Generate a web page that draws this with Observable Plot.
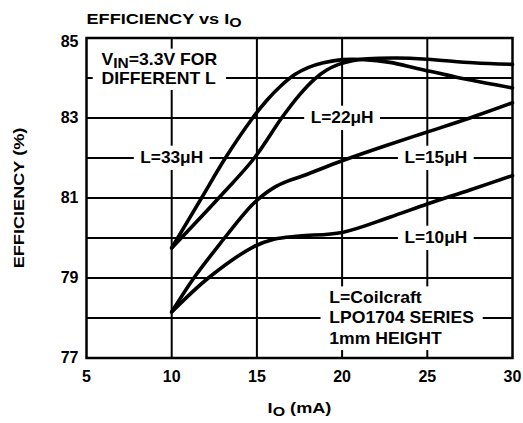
<!DOCTYPE html>
<html>
<head>
<meta charset="utf-8">
<script src="https://cdn.jsdelivr.net/npm/d3@7"></script>
<script src="https://cdn.jsdelivr.net/npm/@observablehq/plot@0.6"></script>
<style>
  html, body { margin: 0; padding: 0; background: #fff; }
</style>
</head>
<body>
<div id="chart"></div>
<script>
// ---- data ----
const L33_x = [10, 11.75, 13.15, 14.75, 15.6, 16.4, 17.2, 18.0, 18.9, 20.0, 21.3, 22.8, 24.4, 26.7, 28.5, 30];
const L33_y = [79.75, 81, 82, 83, 83.45, 83.8, 84.08, 84.26, 84.38, 84.46, 84.46, 84.39, 84.24, 84.02, 83.87, 83.75];

const L22_x = [10, 12.76, 14.85, 16.45, 17.5, 18.4, 19.1, 19.8, 20.6, 21.5, 23.2, 25, 27.7, 30];
const L22_y = [79.75, 81, 82, 83, 83.58, 83.98, 84.2, 84.34, 84.43, 84.48, 84.5, 84.47, 84.38, 84.34];

const L15_x = [10, 11.3, 13.1, 14.0, 14.7, 15.3, 16.0, 16.8, 17.8, 20, 22.5, 25, 27.5, 30];
const L15_y = [78.15, 79, 80, 80.48, 80.82, 81.05, 81.26, 81.42, 81.57, 81.93, 82.3, 82.65, 83, 83.38];

const L10_x = [10, 12.15, 14.8, 16, 17.5, 20, 22.8, 25, 27.5, 30];
const L10_y = [78.15, 79, 79.78, 79.97, 80.05, 80.14, 80.52, 80.85, 81.2, 81.56];

const seriesNames = ["33µH", "22µH", "15µH", "10µH"];
const seriesX = [L33_x, L22_x, L15_x, L10_x];
const seriesY = [L33_y, L22_y, L15_y, L10_y];

const xTicks = [5, 10, 15, 20, 25, 30];
const yTicks = [77, 79, 81, 83, 85];
const xGrid = [10, 15, 20, 25];
const yGrid = [78, 79, 80, 81, 82, 83, 84];

const curveLabelText = ["L=33μH", "L=22μH", "L=15μH", "L=10μH"];
const curveLabelX = [10, 20, 25.5, 25.5];
const curveLabelY = [82, 83, 82, 80];

const noteVinText = "V_{IN}=3.3V FOR\nDIFFERENT L";
const noteVinX = [5.88];
const noteVinY = [84.24];
const noteCoilText = "L=Coilcraft\nLPO1704 SERIES\n1mm HEIGHT";
const noteCoilX = [19.25];
const noteCoilY = [78.03];

const titleText = "EFFICIENCY vs I_{O}";
const xLabelText = "I_{O} (mA)";
const yLabelText = "EFFICIENCY (%)";

// ---- tables built from the arrays ----
const rows = seriesNames.flatMap((name, s) => seriesX[s].map((x, i) => ({L: name, x, y: seriesY[s][i]})));
const curveLabels = curveLabelText.map((t, i) => ({text: t, x: curveLabelX[i], y: curveLabelY[i]}));
const notes = [
  {text: noteVinText, x: noteVinX[0], y: noteVinY[0], lh: 1.2},
  {text: noteCoilText, x: noteCoilX[0], y: noteCoilY[0], lh: 1.3}
];

const FONT = "'Liberation Sans', Arial, Helvetica, sans-serif";
const axisOpts = {tickSize: 0, tickPadding: 8, fontSize: 16, label: null};

const chart = Plot.plot({
  width: 523,
  height: 423,
  marginLeft: 86,
  marginRight: 11,
  marginTop: 37.5,
  marginBottom: 65.5,
  style: {fontFamily: FONT, fontWeight: "bold", fontSize: "16px", color: "black", background: "white", overflow: "visible"},
  x: {domain: [5, 30], label: null},
  y: {domain: [77, 85], label: null},
  marks: [
    Plot.ruleY(yGrid, {stroke: "black", strokeWidth: 2}),
    Plot.ruleX(xGrid, {stroke: "black", strokeWidth: 2}),
    Plot.line(rows, {x: "x", y: "y", z: "L", curve: "catmull-rom", stroke: "black", strokeWidth: 3.6}),
    Plot.text(curveLabels, {x: "x", y: "y", text: "text", fontSize: 16, fontWeight: "bold", fill: "black", lineAnchor: "middle"}),
    ...notes.map(d => Plot.text([d], {x: "x", y: "y", text: "text", textAnchor: "start", lineAnchor: "middle", lineHeight: d.lh, fontSize: 16, fontWeight: "bold", fill: "black"})),
    Plot.frame({stroke: "black", strokeWidth: 2.5}),
    Plot.axisX(xTicks, {...axisOpts, tickPadding: 13}),
    Plot.axisY(yTicks.filter(v => v < 85), axisOpts),
    Plot.axisY(yTicks.filter(v => v >= 85), {...axisOpts, dy: 4}),
    Plot.text([titleText], {frameAnchor: "top-left", text: d => d, textAnchor: "start", lineAnchor: "middle", dy: -19, fontSize: 15.5, fill: "black"}),
    Plot.text([xLabelText], {frameAnchor: "bottom", text: d => d, textAnchor: "middle", lineAnchor: "middle", dy: 50, fontSize: 15.5, fill: "black"}),
    Plot.text([yLabelText], {frameAnchor: "left", text: d => d, rotate: -90, textAnchor: "middle", lineAnchor: "middle", dx: -67, fontSize: 15.5, fill: "black"})
  ]
});
document.getElementById("chart").appendChild(chart);

// turn _{...} into real subscript tspans
function applySubs(root) {
  const ns = "http://www.w3.org/2000/svg";
  const walker = document.createTreeWalker(root, NodeFilter.SHOW_TEXT);
  const nodes = [];
  while (walker.nextNode()) if (walker.currentNode.nodeValue.includes("_{")) nodes.push(walker.currentNode);
  for (const node of nodes) {
    const parts = node.nodeValue.split(/_\{([^}]*)\}/);
    const frag = document.createDocumentFragment();
    parts.forEach((p, i) => {
      if (i === 0) { if (p.length) frag.appendChild(document.createTextNode(p)); return; }
      if (i % 2 === 0 && !p.length) return;
      const t = document.createElementNS(ns, "tspan");
      if (i % 2 === 1) { t.setAttribute("dy", "3.5"); t.setAttribute("font-size", "0.88em"); }
      else t.setAttribute("dy", "-3.5");
      t.textContent = p;
      frag.appendChild(t);
    });
    node.parentNode.replaceChild(frag, node);
  }
}
applySubs(chart);

const svgNS = "http://www.w3.org/2000/svg";

// the reference typeface is a little wider than Arial: stretch text horizontally about its anchor
function stretch(t, s) {
  const b = t.getBBox();
  const anchor = getComputedStyle(t).textAnchor;
  const ax = anchor === "middle" ? b.x + b.width / 2 : anchor === "end" ? b.x + b.width : b.x;
  const tr = t.getAttribute("transform") || "";
  t.setAttribute("transform", `${tr} translate(${ax},0) scale(${s},1) translate(${-ax},0)`);
}
// white box behind an annotation, sized from the text's own bounding box (breaks the grid lines)
function knockout(t, padX, padY) {
  const b = t.getBBox();
  const r = document.createElementNS(svgNS, "rect");
  r.setAttribute("x", b.x - padX);
  r.setAttribute("y", b.y - padY);
  r.setAttribute("width", b.width + 2 * padX);
  r.setAttribute("height", b.height + 2 * padY);
  r.setAttribute("fill", "white");
  r.setAttribute("stroke", "none");
  const tr = t.getAttribute("transform");
  if (tr) r.setAttribute("transform", tr);
  t.parentNode.insertBefore(r, t);
}
chart.querySelectorAll("text").forEach(t => {
  const c = t.textContent;
  if (c.startsWith("EFFICIENCY") || c.startsWith("IO (mA)")) stretch(t, 1.17);
  else if (c.startsWith("VIN") || c.startsWith("L=Coilcraft")) { stretch(t, 1.1); knockout(t, 8, 2); }
  else if (/^L=\d+μH$/.test(c)) { stretch(t, 1.08); knockout(t, 6, 3); }
});
</script>
</body>
</html>
